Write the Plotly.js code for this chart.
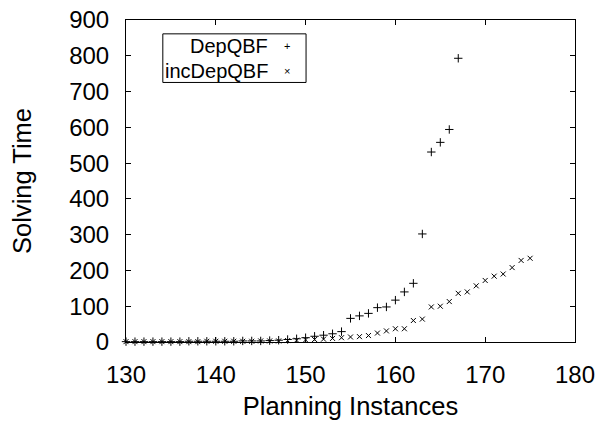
<!DOCTYPE html>
<html>
<head>
<meta charset="utf-8">
<script src="https://cdn.plot.ly/plotly-3.0.1.min.js"></script>
<style>html,body{margin:0;padding:0;background:#fff;}#chart{width:605px;height:421px;}</style>
</head>
<body>
<div id="chart"></div>
<script>
const depX = [130,131,132,133,134,135,136,137,138,139,140,141,142,143,144,145,146,147,148,149,150,151,152,153,154,155,156,157,158,159,160,161,162,163,164,165,166,167];
const depY = [1,1,1,1,1,1,1,2,2,2,2,2,2,3,3,3,4,5,7,9,12,16,19,23,29,66,73,80,96,98,117,140,164,302,531,558,594,793];
const incX = [130,131,132,133,134,135,136,137,138,139,140,141,142,143,144,145,146,147,148,149,150,151,152,153,154,155,156,157,158,159,160,161,162,163,164,165,166,167,168,169,170,171,172,173,174,175];
const incY = [1,1,1,1,1,1,1,1,1,2,2,2,2,2,2,3,3,3,4,5,6,7,8,10,12,14,15,18,25,31,37,37,60,64,98,100,113,136,140,157,172,184,190,208,228,234];
const seriesNames = ["DepQBF", "incDepQBF"];
const xTicks = [130,140,150,160,170,180];
const yTicks = [0,100,200,300,400,500,600,700,800,900];

const font = "Liberation Sans, Arial, sans-serif";
const traces = [
  {x: depX, y: depY, name: seriesNames[0], mode: "markers", type: "scatter",
   marker: {symbol: "cross-thin-open", size: 6, line: {width: 1, color: "#000"}, color: "#000"}, cliponaxis: false},
  {x: incX, y: incY, name: seriesNames[1], mode: "markers", type: "scatter",
   marker: {symbol: "x-thin-open", size: 5, line: {width: 1, color: "#000"}, color: "#000"}, cliponaxis: false}
];
const axisCommon = {showline: true, linecolor: "#000", linewidth: 1, mirror: "allticks", ticks: "inside",
  ticklen: 5, tickwidth: 1, tickcolor: "#000", showgrid: false, zeroline: false,
  ticklabelstandoff: 11,
  tickfont: {family: font, size: 24, color: "#000"}};
const layout = {
  width: 605, height: 421,
  margin: {l: 126, r: 30, t: 20, b: 79},
  paper_bgcolor: "#fff", plot_bgcolor: "#fff",
  showlegend: false,
  xaxis: Object.assign({}, axisCommon, {range: [130, 180], tickvals: xTicks, ticktext: xTicks.map(String),
    title: {text: "Planning Instances", font: {family: font, size: 25.5, color: "#000"}, standoff: 10}}),
  yaxis: Object.assign({}, axisCommon, {range: [0, 900], tickvals: yTicks, ticktext: yTicks.map(String),
    title: {text: "Solving Time", font: {family: font, size: 25.5, color: "#000"}, standoff: 30}}),
  shapes: [{type: "rect", xref: "paper", yref: "paper", x0: 0.082, x1: 0.401, y0: 0.806, y1: 0.957,
    line: {color: "#000", width: 1}, fillcolor: "rgba(0,0,0,0)"}],
  annotations: [
    {xref: "paper", yref: "paper", x: 0.32, y: 0.92, xanchor: "right", yanchor: "middle", showarrow: false,
     text: seriesNames[0], font: {family: font, size: 20, color: "#000"}},
    {xref: "paper", yref: "paper", x: 0.32, y: 0.843, xanchor: "right", yanchor: "middle", showarrow: false,
     text: seriesNames[1], font: {family: font, size: 20, color: "#000"}},
    {xref: "paper", yref: "paper", x: 0.358, y: 0.92, xanchor: "center", yanchor: "middle", showarrow: false,
     text: "+", font: {family: font, size: 11, color: "#000"}},
    {xref: "paper", yref: "paper", x: 0.358, y: 0.843, xanchor: "center", yanchor: "middle", showarrow: false,
     text: "×", font: {family: font, size: 11, color: "#000"}}
  ]
};
Plotly.newPlot("chart", traces, layout, {staticPlot: true, displayModeBar: false});
</script>
</body>
</html>
